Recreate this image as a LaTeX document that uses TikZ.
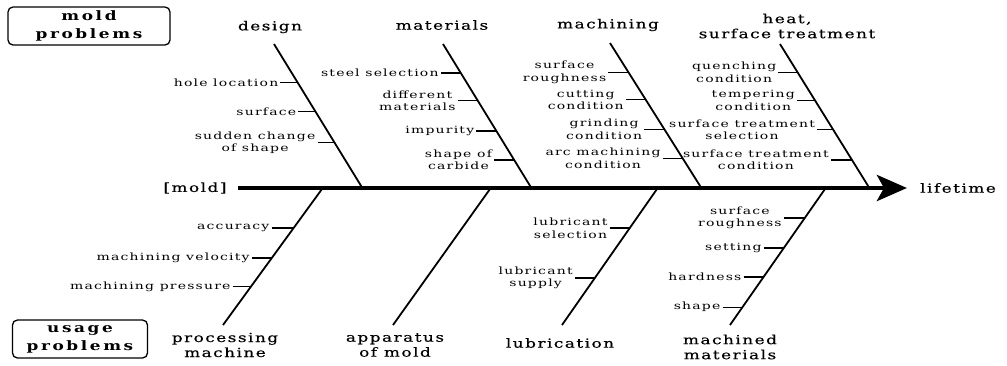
\documentclass[tikz,border=0pt]{standalone}
\usepackage{fontspec}
\setmainfont{DejaVu Serif}
\newfontfamily\causefont[FakeStretch=1.4,LetterSpace=12]{DejaVu Serif}
\newfontfamily\headfont[FakeStretch=1.35,LetterSpace=12,FakeBold=0.4]{DejaVu Serif}
\newfontfamily\boxfont[FakeStretch=1.3,LetterSpace=20]{DejaVu Serif}
\usetikzlibrary{positioning,calc,arrows.meta}

\begin{document}
\begin{tikzpicture}[x=1pt,y=-1pt,
  spine/.style={line width=4.5pt,-{Stealth[length=30pt,width=26pt,inset=7pt]}},
  bone/.style={line width=1.8pt},
  twig/.style={line width=1.1pt},
  cause/.style={font=\causefont\fontsize{10}{12.5}\selectfont,align=center,inner sep=2pt},
  head/.style={font=\headfont\fontsize{12.5}{15}\selectfont,align=center,inner sep=1pt},
  probbox/.style={draw,rounded corners=5pt,line width=1.3pt,
    font=\boxfont\bfseries\fontsize{13}{18}\selectfont,align=center,
    minimum width=162pt,minimum height=38pt,inner sep=0pt}]
  \useasboundingbox (0,0) rectangle (1007,365);

  \node[probbox] (moldbox) at (89,26) {mold\\problems};
  \node[probbox,minimum width=135pt] (usebox) at (80,339) {usage\\problems};

  % main spine
  \node[head] (mold) at (195,188) {[mold]};
  \node[head] (life) at (958,188) {lifetime};
  \draw[spine,shorten <=10pt,shorten >=12pt] (mold) -- (life);

  % mold problems
  \node[head] (design) at (270,27) {design};
  \coordinate (dt) at (274,44);
  \coordinate (db) at (363,189);
  \draw[bone] (dt) -- (db);
  \coordinate (d1) at ($(dt)!.264!(db)$);
  \coordinate (d2) at ($(dt)!.465!(db)$);
  \coordinate (d3) at ($(dt)!.68!(db)$);
  \node[cause,left=17pt of d1] (hole) {hole location};
  \node[cause,left=17pt of d2] (surf) {surface};
  \node[cause,left=17pt of d3] (sudden) {sudden change\\of shape};
  \draw[twig] (hole) -- (d1);
  \draw[twig] (surf) -- (d2);
  \draw[twig] (sudden) -- (d3);

  \node[head] (mater) at (442,25) {materials};
  \coordinate (mt) at (443,44);
  \coordinate (mb) at (532,189);
  \draw[bone] (mt) -- (mb);
  \coordinate (m1) at ($(mt)!.20!(mb)$);
  \coordinate (m2) at ($(mt)!.39!(mb)$);
  \coordinate (m3) at ($(mt)!.60!(mb)$);
  \coordinate (m4) at ($(mt)!.80!(mb)$);
  \node[cause,left=20pt of m1] (steel) {steel selection};
  \node[cause,left=20pt of m2] (diff) {different\\materials};
  \node[cause,left=20pt of m3] (impur) {impurity};
  \node[cause,left=20pt of m4] (carb) {shape of\\carbide};
  \draw[twig] (steel) -- (m1);
  \draw[twig] (diff) -- (m2);
  \draw[twig] (impur) -- (m3);
  \draw[twig] (carb) -- (m4);

  \node[head] (machin) at (608,25) {machining};
  \coordinate (ct) at (610,43);
  \coordinate (cb) at (702,189);
  \draw[bone] (ct) -- (cb);
  \coordinate (c1) at ($(ct)!.20!(cb)$);
  \coordinate (c2) at ($(ct)!.39!(cb)$);
  \coordinate (c3) at ($(ct)!.59!(cb)$);
  \coordinate (c4) at ($(ct)!.79!(cb)$);
  \node[cause,left=20pt of c1] (rough) {surface\\roughness};
  \node[cause,left=20pt of c2] (cutt) {cutting\\condition};
  \node[cause,left=20pt of c3] (grind) {grinding\\condition};
  \node[cause,left=20pt of c4] (arc) {arc machining\\condition};
  \draw[twig] (rough) -- (c1);
  \draw[twig] (cutt) -- (c2);
  \draw[twig] (grind) -- (c3);
  \draw[twig] (arc) -- (c4);

  \node[head] (heat) at (787,26) {heat,\\surface treatment};
  \coordinate (ht) at (780,44);
  \coordinate (hb) at (870,189);
  \draw[bone] (ht) -- (hb);
  \coordinate (h1) at ($(ht)!.194!(hb)$);
  \coordinate (h2) at ($(ht)!.39!(hb)$);
  \coordinate (h3) at ($(ht)!.59!(hb)$);
  \coordinate (h4) at ($(ht)!.80!(hb)$);
  \node[cause,left=19pt of h1] (quench) {quenching\\condition};
  \node[cause,left=18pt of h2] (temper) {tempering\\condition};
  \node[cause,left=16pt of h3] (stsel) {surface treatment\\selection};
  \node[cause,left=21pt of h4] (stcon) {surface treatment\\condition};
  \draw[twig] (quench) -- (h1);
  \draw[twig] (temper) -- (h2);
  \draw[twig] (stsel) -- (h3);
  \draw[twig] (stcon) -- (h4);

  % usage problems
  \node[head] (proc) at (225,345) {processing\\machine};
  \coordinate (pt) at (322,189);
  \coordinate (pb) at (223,325);
  \draw[bone] (pt) -- (pb);
  \coordinate (p1) at ($(pt)!.287!(pb)$);
  \coordinate (p2) at ($(pt)!.507!(pb)$);
  \coordinate (p3) at ($(pt)!.72!(pb)$);
  \node[cause,left=22pt of p1] (accur) {accuracy};
  \node[cause,left=20pt of p2] (veloc) {machining velocity};
  \node[cause,left=18pt of p3] (press) {machining pressure};
  \draw[twig] (accur) -- (p1);
  \draw[twig] (veloc) -- (p2);
  \draw[twig] (press) -- (p3);

  \node[head] (appar) at (395,345) {apparatus\\of mold};
  \coordinate (at) at (490,189);
  \coordinate (ab) at (393,325);
  \draw[bone] (at) -- (ab);

  \node[head] (lubri) at (560,343) {lubrication};
  \coordinate (lt) at (657,189);
  \coordinate (lb) at (562,325);
  \draw[bone] (lt) -- (lb);
  \coordinate (l1) at ($(lt)!.287!(lb)$);
  \coordinate (l2) at ($(lt)!.654!(lb)$);
  \node[cause,left=20pt of l1] (lubsel) {lubricant\\selection};
  \node[cause,left=20pt of l2] (lubsup) {lubricant\\supply};
  \draw[twig] (lubsel) -- (l1);
  \draw[twig] (lubsup) -- (l2);

  \node[head] (machd) at (730,347) {machined\\materials};
  \coordinate (wt) at (825,189);
  \coordinate (wb) at (730,325);
  \draw[bone] (wt) -- (wb);
  \coordinate (w1) at ($(wt)!.213!(wb)$);
  \coordinate (w2) at ($(wt)!.434!(wb)$);
  \coordinate (w3) at ($(wt)!.647!(wb)$);
  \coordinate (w4) at ($(wt)!.868!(wb)$);
  \node[cause,left=21pt of w1] (wrough) {surface\\roughness};
  \node[cause,left=20pt of w2] (sett) {setting};
  \node[cause,left=20pt of w3] (hard) {hardness};
  \node[cause,left=20pt of w4] (wshape) {shape};
  \draw[twig] (wrough) -- (w1);
  \draw[twig] (sett) -- (w2);
  \draw[twig] (hard) -- (w3);
  \draw[twig] (wshape) -- (w4);
\end{tikzpicture}
\end{document}
